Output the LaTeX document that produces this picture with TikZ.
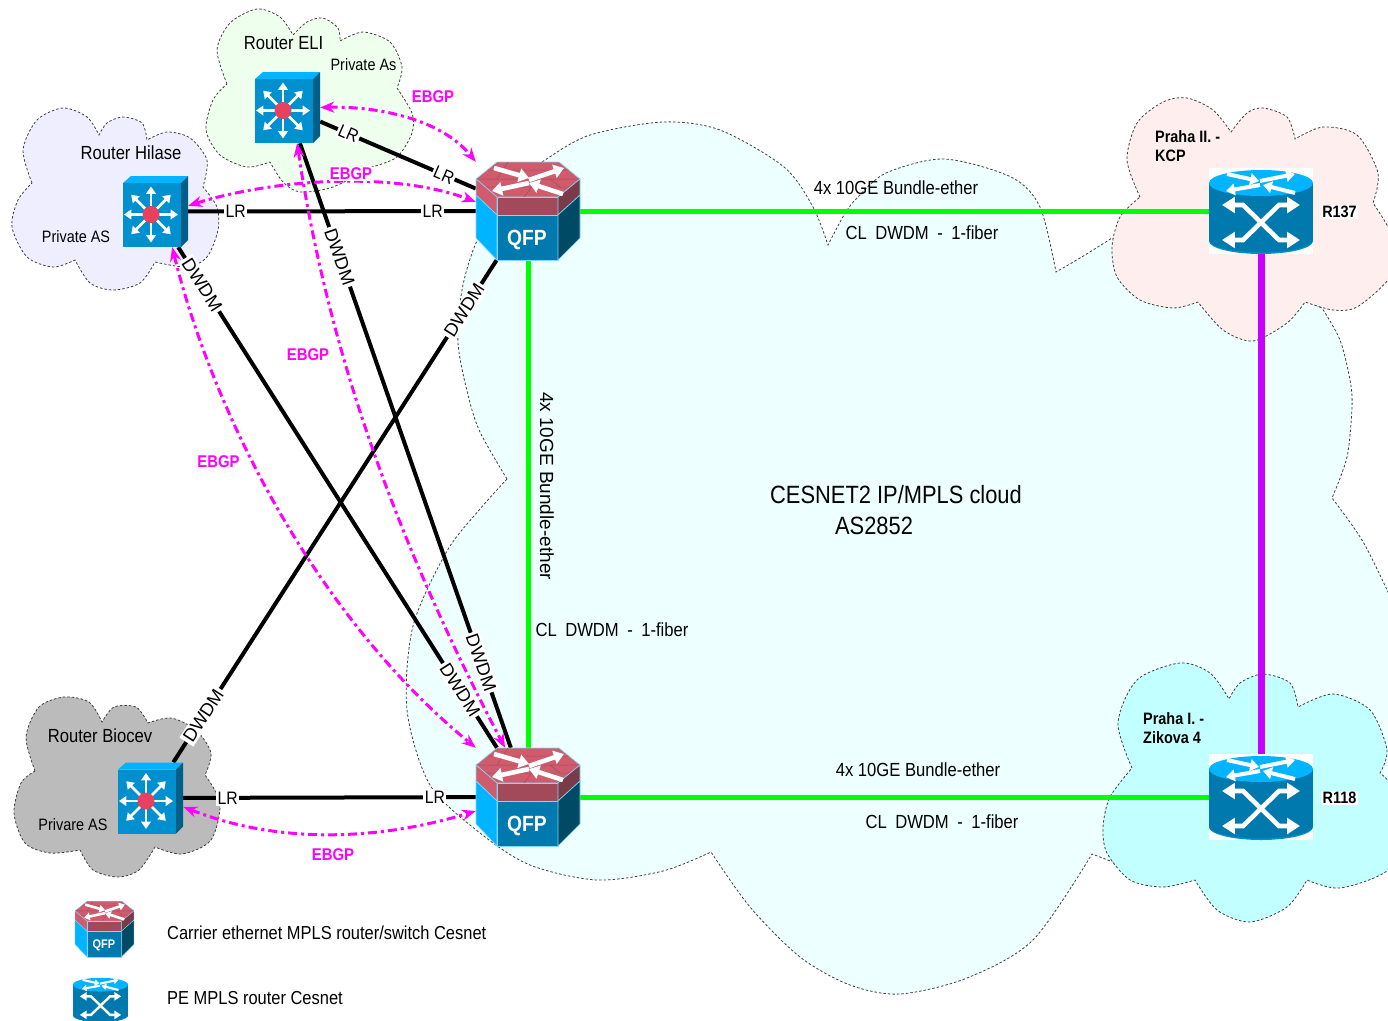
\documentclass[tikz,border=0pt]{standalone}
\usepackage{fontspec}
\setmainfont{Liberation Sans}[FakeStretch=0.875]
\newfontfamily\fullfont{Liberation Sans}
\usetikzlibrary{arrows.meta, positioning, calc}

\definecolor{cloudmain}{HTML}{EEFFFF}
\definecolor{cloudkcp}{HTML}{FFEEEE}
\definecolor{cloudzik}{HTML}{C2FFFF}
\definecolor{cloudhil}{HTML}{EEEEFF}
\definecolor{cloudeli}{HTML}{EEFFEE}
\definecolor{cloudbio}{HTML}{BBBBBB}
\definecolor{iconsky}{HTML}{00B4FF}
\definecolor{iconblue}{HTML}{0079AE}
\definecolor{icondark}{HTML}{004A66}
\definecolor{iconswitch}{HTML}{0090D0}
\definecolor{iconside}{HTML}{005F88}
\definecolor{iconred}{HTML}{CF5B6C}
\definecolor{iconband}{HTML}{A24A5A}
\definecolor{iconrim}{HTML}{7A3A48}
\definecolor{iconhub}{HTML}{E8415E}
\definecolor{linkgreen}{HTML}{00FF00}
\definecolor{linkpurple}{HTML}{C800FF}
\definecolor{bgpmagenta}{HTML}{FF00FF}

\tikzset{
    whitetip/.style={white, -{Triangle[length=0pt 2.2, width=0pt 2.9]}},
    whitedouble/.style={white, {Triangle[length=0pt 2.8, width=0pt 3.4]}-{Triangle[length=0pt 2.8, width=0pt 3.4]}},
    whitethin/.style={white, -{Triangle[length=0pt 2.6, width=0pt 3.4]}},
    % router drawn around its centre, #1 is the size
    qfpicon/.pic={
        \begin{scope}[scale=#1, line width=#1*0.6pt, draw=iconsky!50]
        \filldraw[fill=iconred] (-52,-32) -- (-31,-49) -- (31,-49) -- (52,-32) -- (30,-14) -- (-31,-14) -- cycle;
        % bricks on the top face
        \draw[iconband, line width=#1*0.5pt] (-42,-24) -- (42,-24) (-40,-41) -- (40,-41) (-52,-32) -- (52,-32) (-20,-49) -- (-31,-32) (10,-32) -- (-4,-14) (22,-32) -- (32,-24);
        \filldraw[fill=iconband] (-31,-14) rectangle (30,4);
        \filldraw[fill=iconred] (-52,-32) -- (-31,-14) -- (-31,4) -- (-52,-16) -- cycle;
        \filldraw[fill=iconrim] (52,-32) -- (30,-14) -- (30,4) -- (52,-16) -- cycle;
        \filldraw[fill=iconsky] (-52,-16) -- (-31,4) -- (-31,49) -- (-52,27) -- cycle;
        \filldraw[fill=iconblue] (-31,4) rectangle (30,49);
        \filldraw[fill=icondark] (30,4) -- (52,-16) -- (52,27) -- (30,49) -- cycle;
        \draw[whitetip, line width=#1*4.6pt] (-34,-43) -- (1,-33);
        \draw[whitetip, line width=#1*4.6pt] (1,-31) -- (36,-43);
        \draw[whitetip, line width=#1*4.6pt] (1,-28) -- (-36,-20);
        \draw[whitetip, line width=#1*4.6pt] (35,-17) -- (1,-28);
        \node[transform shape, text=white, inner sep=0pt, font=\bfseries\fontsize{22}{24}\selectfont] (text) at (-1,28.5) {QFP};
        \end{scope}
    },
    % cylinder router drawn around its centre
    peicon/.pic={
        \begin{scope}[scale=#1]
        \fill[white] (-52,-43) rectangle (52,43);
        \fill[iconsky!40!iconblue] (0,30) ellipse [x radius=52, y radius=13];
        \fill[iconblue] (0,29) ellipse [x radius=52, y radius=12.5];
        \fill[iconblue] (-52,-28) rectangle (52,29);
        \fill[iconsky] (0,-28) ellipse [x radius=52, y radius=13];
        \draw[whitetip, line width=#1*4pt] (-34,-37) -- (-2,-30);
        \draw[whitetip, line width=#1*4pt] (-1,-30) -- (34,-37);
        \draw[whitetip, line width=#1*4pt] (-1,-26) -- (-35,-20);
        \draw[whitetip, line width=#1*4pt] (34,-18) -- (2,-26);
        \draw[whitedouble, line width=#1*4.6pt] (-39,-6) -- (-18,-6) -- (18,29) -- (39,29);
        \draw[whitedouble, line width=#1*4.6pt] (39,-6) -- (18,-6) -- (-18,29) -- (-39,29);
        \end{scope}
    },
    % customer switch drawn around its centre
    swicon/.pic={
        \fill[iconsky] (-32.5,-28.5) -- (-24.5,-35.5) -- (32.5,-35.5) -- (25.5,-28.5) -- cycle;
        \fill[iconside] (25.5,-28.5) -- (32.5,-35.5) -- (32.5,28.5) -- (25.5,35.5) -- cycle;
        \fill[iconswitch] (-32.5,-28.5) rectangle (25.5,35.5);
        \foreach \a/\len in {0/20, 45/21, 90/21, 135/21, 180/20, 225/21, 270/21, 315/21}
            \draw[whitethin, line width=2.8pt] (-4.5,3) ++(\a:7) -- ++(\a:\len);
        \fill[iconhub] (-4.5,3) circle (8.5);
    },
}

\begin{document}
\begin{tikzpicture}[
    x=1pt, y=-1pt,
    font=\fontsize{19}{22}\selectfont,
    every node/.style={align=center, inner sep=0pt},
    cloudline/.style={draw=black!75, line width=0.8pt, dash pattern=on 2.5pt off 2pt},
    qfpbox/.style={rectangle, inner sep=0pt, minimum width=104pt, minimum height=98pt},
    pebox/.style={rectangle, inner sep=0pt, minimum width=104pt, minimum height=86pt},
    swbox/.style={rectangle, inner sep=0pt, minimum width=65pt, minimum height=71pt},
    lrlink/.style={black, line width=4pt},
    greenlink/.style={linkgreen, line width=5pt},
    purplelink/.style={linkpurple, line width=7pt},
    ebgplink/.style={bgpmagenta, line width=3pt, dash pattern=on 9pt off 4pt on 3pt off 4pt,
                     {Stealth[length=14pt, width=11pt]}-{Stealth[length=14pt, width=11pt]}},
    linklabel/.style={fill=white, inner sep=1.5pt, font=\fontsize{18}{20}\selectfont},
    dwdmlabel/.style={fill=white, inner sep=2pt, font=\fullfont\fontsize{18.3}{20}\selectfont},
    ebgplabel/.style={text=bgpmagenta, inner sep=1pt, font=\bfseries\fontsize{17}{19}\selectfont},
    smalllabel/.style={font=\fontsize{16.5}{19}\selectfont},
    sitelabel/.style={align=left, font=\bfseries\fontsize{16.5}{18.5}\selectfont},
    routerlabel/.style={fill=white, inner sep=1.5pt, font=\bfseries\fontsize{16.5}{19}\selectfont},
    widewords/.style={execute at begin node={\spaceskip=8.5pt\relax}}
]
\useasboundingbox (0,0) rectangle (1388,1020);

% ----------------------
% Clouds
% ----------------------

% CESNET2 cloud
\path[cloudline, fill=cloudmain]
    plot[smooth] coordinates {(507,479) (480,432) (468,395) (458,343) (462,290) (476,243) (505,190)}
    -- plot[smooth] coordinates {(505,190) (545,160) (590,135) (663,122) (720,130) (784,167) (813,207) (828,245)}
    -- plot[smooth] coordinates {(828,245) (844,215) (857,198) (886,173) (944,159) (1011,177) (1040,207) (1056,272)}
    -- plot[smooth] coordinates {(1056,272) (1085,255) (1112,238)}
    -- (1200,250)
    -- plot[smooth] coordinates {(1322,308) (1340,340) (1350,380) (1352,407) (1347,457) (1332,498)}
    -- plot[smooth] coordinates {(1332,498) (1362,540) (1388,592) (1400,620)}
    -- (1400,800) -- (1113,862) -- (1092,854)
    -- plot[smooth] coordinates {(1092,854) (1033,940) (967,978) (900,994) (850,985) (800,957) (750,907) (711,852)}
    -- plot[smooth] coordinates {(711,852) (663,871) (597,880) (530,865) (480,833) (430,785) (407,710) (413,626) (447,551) (480,509) (507,479)}
    -- cycle;

% Praha II cloud
\path[cloudline, fill=cloudkcp]
    plot[smooth] coordinates {(1140,197) (1127,160) (1137,123) (1163,102) (1187,98) (1213,110) (1231,132)}
    -- plot[smooth] coordinates {(1231,132) (1247,113) (1263,108) (1287,117) (1295,139)}
    -- plot[smooth] coordinates {(1295,139) (1323,127) (1357,135) (1378,173) (1373,203)}
    -- plot[smooth] coordinates {(1373,203) (1388,227) (1398,255) (1388,280) (1357,307) (1333,310) (1305,302)}
    -- plot[smooth] coordinates {(1305,302) (1287,323) (1253,341) (1223,330) (1198,302)}
    -- plot[smooth] coordinates {(1198,302) (1173,308) (1140,300) (1117,277) (1112,247) (1120,217) (1140,197)}
    -- cycle;

% Praha I cloud
\path[cloudline, fill=cloudzik]
    plot[smooth] coordinates {(1132,768) (1118,723) (1137,680) (1180,663) (1210,673) (1229,699)}
    -- plot[smooth] coordinates {(1229,699) (1240,683) (1263,674) (1290,683) (1298,707)}
    -- plot[smooth] coordinates {(1298,707) (1333,694) (1370,710) (1387,750) (1380,773)}
    -- plot[smooth] coordinates {(1380,773) (1395,790) (1405,830) (1388,870) (1340,888) (1307,880)}
    -- plot[smooth] coordinates {(1307,880) (1287,907) (1250,922) (1217,910) (1195,880)}
    -- plot[smooth] coordinates {(1195,880) (1163,887) (1130,880) (1107,853) (1103,827) (1110,797) (1132,768)}
    -- cycle;

% Hilase cloud
\path[cloudline, fill=cloudhil]
    plot[smooth] coordinates {(32,183) (23,150) (37,120) (63,108) (87,117) (99,135)}
    -- plot[smooth] coordinates {(99,135) (107,123) (123,117) (142,123) (147,140)}
    -- plot[smooth] coordinates {(147,140) (167,132) (190,138) (207,160) (203,187)}
    -- plot[smooth] coordinates {(203,187) (217,207) (218,230) (207,257) (187,267) (155,262)}
    -- plot[smooth] coordinates {(155,262) (140,283) (113,290) (90,283) (75,260)}
    -- plot[smooth] coordinates {(75,260) (53,267) (27,257) (12,227) (18,200) (32,183)}
    -- cycle;

% ELI cloud
\path[cloudline, fill=cloudeli]
    plot[smooth] coordinates {(227,84) (217,50) (230,23) (257,9) (280,17) (293,35)}
    -- plot[smooth] coordinates {(293,35) (307,22) (323,18) (338,28) (340,41)}
    -- plot[smooth] coordinates {(340,41) (363,32) (390,42) (402,67) (397,88)}
    -- plot[smooth] coordinates {(397,88) (412,113) (412,133) (397,157) (372,167)}
    -- plot[smooth] coordinates {(372,167) (333,187) (300,192) (283,182) (270,162)}
    -- plot[smooth] coordinates {(270,162) (247,167) (220,155) (206,130) (213,100) (227,84)}
    -- cycle;

% Biocev cloud
\path[cloudline, fill=cloudbio]
    plot[smooth] coordinates {(35,771) (26,737) (39,707) (64,697) (89,702) (102,722)}
    -- plot[smooth] coordinates {(102,722) (114,707) (136,707) (148,723)}
    -- plot[smooth] coordinates {(148,723) (171,718) (196,730) (211,753) (205,775)}
    -- plot[smooth] coordinates {(205,775) (220,803) (211,840) (182,854) (155,847)}
    -- plot[smooth] coordinates {(155,847) (139,870) (118,877) (93,870) (80,850)}
    -- plot[smooth] coordinates {(80,850) (50,853) (25,843) (14,813) (21,783) (35,771)}
    -- cycle;

% ----------------------
% Nodes
% ----------------------

\node[qfpbox] (qfpa) at (528,211) {};
\node[qfpbox] (qfpb) at (528,797) {};
\node[pebox] (rkcp) at (1261,211) {};
\node[pebox] (rzik) at (1261,797) {};
\node[swbox] (hilase) at (155.5,211.5) {};
\node[swbox] (eli) at (287.5,107.5) {};
\node[swbox] (biocev) at (150.5,798) {};

% ----------------------
% Links
% ----------------------

% Core links
\draw[greenlink] (qfpa) -- (rkcp);
\draw[greenlink] (qfpa) -- (qfpb);
\draw[greenlink] (qfpb) -- (rzik);
\draw[purplelink] (rkcp) -- (rzik);

% Customer links, LR
\draw[lrlink] (hilase) -- node[linklabel, pos=0.165] (lrhila) {LR} node[linklabel, pos=0.85] (lrhilb) {LR} (qfpa);
\draw[lrlink] (eli) -- node[linklabel, sloped, pos=0.182] (lrelia) {LR} node[linklabel, sloped, pos=0.795] (lrelib) {LR} (qfpa);
\draw[lrlink] (biocev) -- node[linklabel, pos=0.152] (lrbioa) {LR} node[linklabel, pos=0.86] (lrbiob) {LR} (qfpb);

% Customer links, DWDM
\draw[lrlink] (eli) -- node[dwdmlabel, sloped, pos=0.188] (dwelia) {DWDM} node[dwdmlabel, sloped, pos=0.859] (dwelib) {DWDM} (qfpb);
\draw[lrlink] (hilase) -- node[dwdmlabel, sloped, pos=0.075] (dwhila) {DWDM} node[dwdmlabel, sloped, pos=0.884] (dwhilb) {DWDM} (qfpb);
\draw[lrlink] (biocev) -- node[dwdmlabel, sloped, pos=0.093] (dwbioa) {DWDM} node[dwdmlabel, sloped, pos=0.9] (dwbiob) {DWDM} (qfpa);

% EBGP sessions
\draw[ebgplink] (eli.east) .. controls (375,106) and (440,118) .. (qfpa.north west);
\draw[ebgplink] (hilase.10) .. controls (270,180) and (390,170) .. (qfpa.170);
\draw[ebgplink] (eli.-75) .. controls (325,330) and (385,520) .. (qfpb.115);
\draw[ebgplink] (hilase.-65) .. controls (215,420) and (320,620) .. (qfpb.north west);
\draw[ebgplink] (biocev.-15) .. controls (280,845) and (380,840) .. (qfpb.195);

% EBGP labels
\node[ebgplabel] (bgpeli) at (433,97) {EBGP};
\node[ebgplabel, fill=white] (bgphil) at (351,174) {EBGP};
\node[ebgplabel] (bgpelib) at (308,354.5) {EBGP};
\node[ebgplabel] (bgphilb) at (218.5,461.5) {EBGP};
\node[ebgplabel] (bgpbio) at (333,855) {EBGP};

% ----------------------
% Icons
% ----------------------

\pic (iqfpa) at (qfpa) {qfpicon=1};
\pic (iqfpb) at (qfpb) {qfpicon=1};
\pic at (rkcp) {peicon=1};
\pic at (rzik) {peicon=1};
\pic at (hilase) {swicon};
\pic at (eli) {swicon};
\pic at (biocev) {swicon};

% ----------------------
% Texts
% ----------------------

\node (nameeli) at (283.5,43.5) {Router ELI};
\node[smalllabel] (aseli) at (363.5,65) {Private As};
\node (namehil) at (131,153) {Router Hilase};
\node[smalllabel] (ashil) at (76,236.5) {Private AS};
\node (namebio) at (100,736) {Router Biocev};
\node[smalllabel] (asbio) at (73,824.5) {Privare AS};

\node[sitelabel, anchor=west] (sitekcp) at (1155,146) {Praha II. -\\KCP};
\node[sitelabel, anchor=west] (sitezik) at (1143,728) {Praha I. -\\Zikova 4};
\node[routerlabel] (namekcp) at (1339.5,212) {R137};
\node[routerlabel] (namezik) at (1339.5,798) {R118};

\node[font=\fontsize{25}{28}\selectfont] (cloudname) at (896,495) {CESNET2 IP/MPLS cloud};
\node[font=\fontsize{25}{28}\selectfont] (cloudas) at (874,526) {AS2852};

\node (bundlea) at (896,188) {4x 10GE Bundle-ether};
\node[widewords] (fibera) at (922,233) {CL DWDM - 1-fiber};
\node[rotate=-90, font=\fullfont\fontsize{19}{22}\selectfont] (bundleb) at (547,486) {4x 10GE Bundle-ether};
\node[widewords] (fiberb) at (612,630) {CL DWDM - 1-fiber};
\node (bundlec) at (918,770) {4x 10GE Bundle-ether};
\node[widewords] (fiberc) at (942,822) {CL DWDM - 1-fiber};

% ----------------------
% Legend
% ----------------------

\node (keyqfp) at (104.5,929) {};
\pic (ikeyqfp) at (keyqfp) {qfpicon=0.567};
\node[anchor=west, font=\fontsize{18.8}{22}\selectfont] (keyqfptext) at (167,933) {Carrier ethernet MPLS router/switch Cesnet};
\node (keype) at (100.5,999.5) {};
\pic at (keype) {peicon=0.53};
\node[anchor=west, font=\fontsize{18.8}{22}\selectfont] (keypetext) at (167,998) {PE MPLS router Cesnet};

\end{tikzpicture}
\end{document}
